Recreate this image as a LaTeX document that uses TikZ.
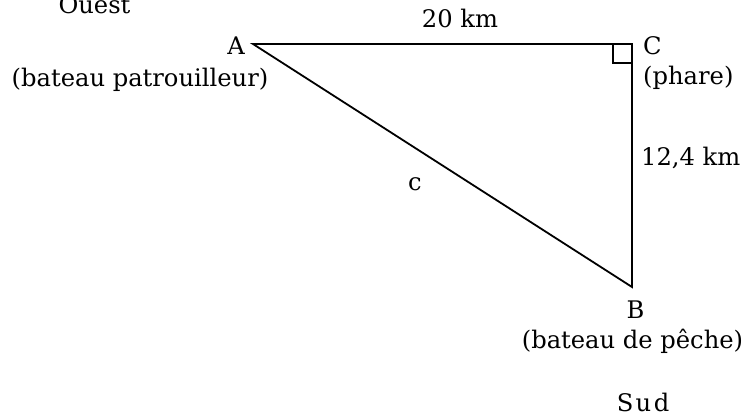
\documentclass[tikz,border=0pt]{standalone}
\usepackage{fontspec}
\setmainfont{DejaVu Serif}
\begin{document}
\begin{tikzpicture}[x=1pt,y=-1pt,
  lbl/.style={inner sep=0pt,font=\fontsize{24.2}{29}\selectfont},
  edge/.style={line width=1.8pt,black}]
\useasboundingbox (0,0) rectangle (753,417);
\coordinate (A) at (253,44);
\coordinate (C) at (632,44);
\coordinate (B) at (632,287);
\draw[edge] (A) -- (C) -- (B) -- cycle;
\draw[line width=1.5pt] ([xshift=-19pt]C) |- ([yshift=-19pt]C);
\node[lbl,anchor=base] (ouest) at (94.5,14) {Ouest};
\node[lbl,anchor=base] (ac) at (460,28) {20 km};
\node[lbl,anchor=base] (la) at (236,55) {A};
\node[lbl,anchor=base] (pa) at (140,87) {(bateau patrouilleur)};
\node[lbl,anchor=base west] (lc) at (643,55) {C};
\node[lbl,anchor=base west] (ph) at (643,85) {(phare)};
\node[lbl,anchor=base west] (cb) at (641,166) {12,4 km};
\node[lbl,anchor=base] (hyp) at (415,191) {c};
\node[lbl,anchor=base] (lb) at (635.5,318) {B};
\node[lbl,anchor=base] (pe) at (632.5,348) {(bateau de pêche)};
\node[lbl,anchor=base] (sud) at (643,411) {\addfontfeature{LetterSpace=10}Sud};
\end{tikzpicture}
\end{document}
